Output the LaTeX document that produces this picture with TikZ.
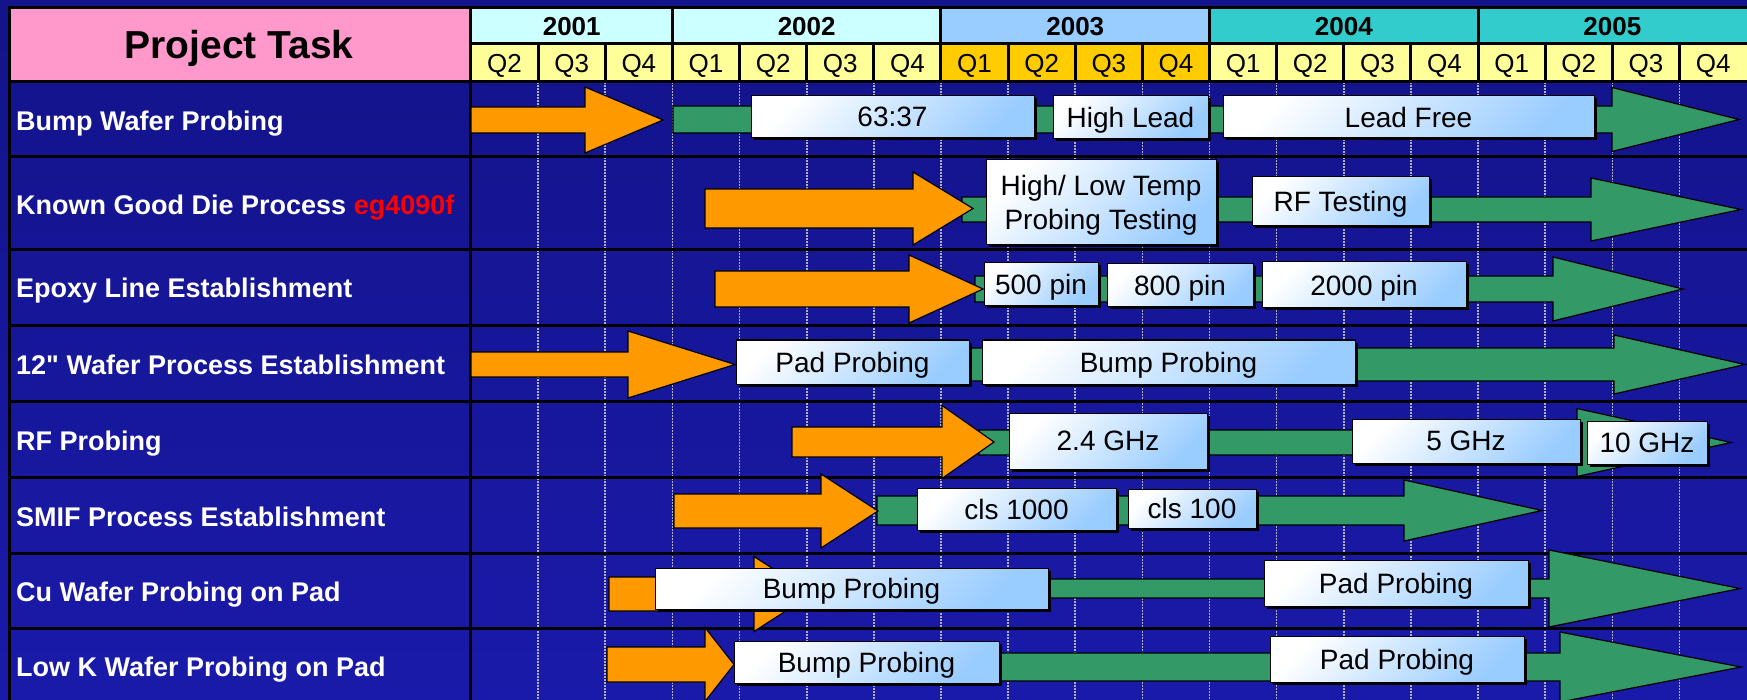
\documentclass[tikz,border=0pt]{standalone}
\usepackage{fontspec}
\setmainfont{Liberation Sans}
\newfontfamily\lblsans{Liberation Sans}
\usetikzlibrary{shadows}

\definecolor{navytop}{RGB}{19,19,138}
\definecolor{navybot}{RGB}{26,26,170}
\definecolor{taskpink}{RGB}{255,153,204}
\definecolor{yrcyan}{RGB}{204,255,255}
\definecolor{yrblue}{RGB}{153,204,255}
\definecolor{yrteal}{RGB}{51,204,204}
\definecolor{qyellow}{RGB}{255,255,153}
\definecolor{qgold}{RGB}{255,204,0}
\definecolor{barorange}{RGB}{255,153,0}
\definecolor{bargreen}{RGB}{51,153,102}
\definecolor{boxblue}{RGB}{153,204,255}
\definecolor{gridgray}{RGB}{175,175,185}
\definecolor{labelred}{RGB}{255,0,0}

% x of quarter boundary #1 (0 = start of 2001 Q2)
\newcommand{\qx}[1]{(471+67.14*(#1))}
% block arrow: start, head base, tip, centre y, shaft half width, head half width
\newcommand{\taskarrow}[7][]{%
  \draw[#1] (#2,#5-#6) -- (#3,#5-#6) -- (#3,#5-#7) -- (#4,#5) -- (#3,#5+#7) -- (#3,#5+#6) -- (#2,#5+#6) -- cycle;}
% stage box: name, x1, y1, x2, y2, text
\newcommand{\taskbox}[6]{%
  \node[tbox, minimum width={#4-#2}, minimum height={#5-#3}] (#1) at ({(#2+#4)/2},{(#3+#5)/2}) {#6};}

\begin{document}
\begin{tikzpicture}[x=1pt, y=-1pt,
    rule/.style={line width=3pt},
    gridline/.style={draw=gridgray, line width=1.6pt, dash pattern=on 2pt off 1pt},
    hdr/.style={anchor=base, inner sep=0pt, font=\fontsize{26}{30}\selectfont},
    rowlbl/.style={anchor=base west, inner sep=0pt, text=white, font=\lblsans\fontsize{27}{32}\selectfont\bfseries},
    tbox/.style={draw=black, line width=1pt, top color=white, bottom color=boxblue, shading angle=45,
      inner sep=0pt, outer sep=0pt, align=center, text depth=0pt, font=\fontsize{28}{34}\selectfont,
      drop shadow={shadow xshift=2.5pt, shadow yshift=-2.5pt, fill=black, opacity=1}},
    obar/.style={fill=barorange, draw=black, line width=1.2pt},
    gbar/.style={fill=bargreen, draw=black, line width=1.2pt},
]
\useasboundingbox (0,0) rectangle (1747,700);
\shade[top color=navytop, bottom color=navybot] (0,0) rectangle (1747,700);

% Header
\fill[taskpink] (9,8) rectangle (470,82);
\node[anchor=base, inner sep=0pt, font=\fontsize{39}{44}\selectfont\bfseries] (title) at (239,59) {Project Task};
\foreach \a/\b/\c/\yr in {0/3/yrcyan/2001, 3/7/yrcyan/2002, 7/11/yrblue/2003, 11/15/yrteal/2004, 15/19/yrteal/2005} {
  \fill[\c] ({\qx{\a}},8) rectangle ({\qx{\b}},44);
  \node[hdr, font=\fontsize{26}{30}\selectfont\bfseries] (y\yr) at ({(\qx{\a}+\qx{\b})/2},36) {\yr};
}
\fill[qyellow] ({\qx{0}},44) rectangle ({\qx{19}},82);
\fill[qgold] ({\qx{7}},44) rectangle ({\qx{11}},82);
\foreach \q [evaluate=\q as \qn using {int(mod(\q+1,4)+1)}] in {0,...,18}
  \node[hdr] (q\q) at ({\qx{\q+0.5}},73) {Q\qn};

% Grid
\foreach \q in {1,...,18}
  \draw[gridline] ({\qx{\q}},82) -- ({\qx{\q}},700);
\draw[rule] (9,8) -- (1747,8);
\draw[rule] (9,6.5) -- (9,700);
\draw[rule] (470,8) -- (470,700);
\draw[rule] (470,44) -- (1747,44);
\foreach \q in {3,7,11,15}
  \draw[rule] ({\qx{\q}},8) -- ({\qx{\q}},82);
\foreach \q in {1,2,4,5,6,8,9,10,12,13,14,16,17,18}
  \draw[rule] ({\qx{\q}},44) -- ({\qx{\q}},82);
\foreach \y in {82,157,250,326,401,477,553,628}
  \draw[rule] (9,\y) -- (1747,\y);

% Task names
\foreach \y/\txt [count=\i] in {131/Bump Wafer Probing, 215/{Known Good Die Process \textcolor{labelred}{eg4090f}},
    298/Epoxy Line Establishment, 374/12" Wafer Process Establishment, 450/RF Probing,
    526/SMIF Process Establishment, 601/Cu Wafer Probing on Pad, 676/Low K Wafer Probing on Pad}
  \node[rowlbl] (task\i) at (16,\y) {\txt};

% Green arrows
\taskarrow[gbar]{673}{1612}{1739}{119.5}{13.5}{32}
\taskarrow[gbar]{962}{1591}{1741}{209.5}{12.5}{31.5}
\taskarrow[gbar]{975}{1553}{1683}{289}{13}{32}
\taskarrow[gbar]{750}{1614}{1745}{364.5}{16.5}{29.5}
\taskarrow[gbar]{979}{1577}{1731}{442.5}{12.5}{34}
\taskarrow[gbar]{877}{1404}{1542}{510.5}{14.5}{30.5}
\taskarrow[gbar]{700}{1549}{1740}{588.5}{9.5}{38.5}
\taskarrow[gbar]{740}{1560}{1741}{667}{14}{35}

% Orange arrows
\taskarrow[obar]{471}{585}{663}{120}{13}{33}
\taskarrow[obar]{705}{913}{973}{208.5}{19.5}{36.5}
\taskarrow[obar]{715}{909}{983}{289}{18}{34}
\taskarrow[obar]{471}{628}{735}{364.5}{12.5}{33.5}
\taskarrow[obar]{792}{942}{994}{442}{15}{36.5}
\taskarrow[obar]{674}{821}{878}{511}{17}{37}
\taskarrow[obar]{609}{754}{812}{594}{17}{37.5}
\taskarrow[obar]{607}{705}{734}{664.5}{17.5}{37}

% Stages
\taskbox{b11}{751}{96}{1034}{138}{63:37}
\taskbox{b12}{1053}{96}{1208}{139}{High Lead}
\taskbox{b13}{1223}{96}{1594}{138}{Lead Free}
\taskbox{b21}{986}{160}{1216}{245}{High/ Low Temp\\Probing Testing}
\taskbox{b22}{1252}{177}{1429}{226}{RF Testing}
\taskbox{b31}{984}{263}{1098}{306}{500 pin}
\taskbox{b32}{1107}{264}{1253}{307}{800 pin}
\taskbox{b33}{1262}{262}{1466}{308}{2000 pin}
\taskbox{b41}{736}{340}{969}{384}{Pad Probing}
\taskbox{b42}{982}{340}{1355}{384}{Bump Probing}
\taskbox{b51}{1009}{413}{1207}{469}{2.4 GHz}
\taskbox{b52}{1352}{419}{1580}{463}{5 GHz}
\taskbox{b53}{1587}{421}{1707}{464}{10 GHz}
\taskbox{b61}{917}{488}{1116}{530}{cls 1000}
\taskbox{b62}{1128}{489}{1256}{528}{cls 100}
\taskbox{b71}{655}{568}{1048}{609}{Bump Probing}
\taskbox{b72}{1264}{560}{1528}{606}{Pad Probing}
\taskbox{b81}{734}{641}{999}{683}{Bump Probing}
\taskbox{b82}{1270}{636}{1524}{682}{Pad Probing}
\end{tikzpicture}
\end{document}
